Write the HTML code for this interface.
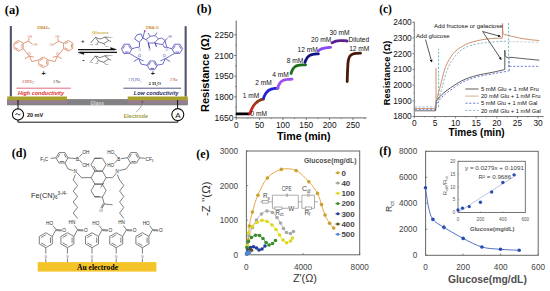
<!DOCTYPE html>
<html><head><meta charset="utf-8"><title>Figure</title>
<style>html,body{margin:0;padding:0;background:#fff;width:550px;height:291px;overflow:hidden}svg{display:block}
</style></head>
<body>
<svg width="550" height="291" viewBox="0 0 550 291"><text x="4.8" y="13.6" font-family="'Liberation Serif',serif" font-size="12.4" fill="#000" text-anchor="start" font-weight="bold" font-style="normal">(a)</text>
<text x="196.8" y="12.8" font-family="'Liberation Serif',serif" font-size="12" fill="#000" text-anchor="start" font-weight="bold" font-style="normal">(b)</text>
<text x="379.2" y="12.5" font-family="'Liberation Serif',serif" font-size="11.5" fill="#000" text-anchor="start" font-weight="bold" font-style="normal">(c)</text>
<text x="11.8" y="157.3" font-family="'Liberation Serif',serif" font-size="12" fill="#000" text-anchor="start" font-weight="bold" font-style="normal">(d)</text>
<text x="196.2" y="157.6" font-family="'Liberation Serif',serif" font-size="12" fill="#000" text-anchor="start" font-weight="bold" font-style="normal">(e)</text>
<text x="379.3" y="154.7" font-family="'Liberation Serif',serif" font-size="12" fill="#000" text-anchor="start" font-weight="bold" font-style="normal">(f)</text>
<line x1="236.2" y1="20.5" x2="236.2" y2="117.9" stroke="#555" stroke-width="0.9"/>
<line x1="236.2" y1="117.9" x2="366.6" y2="117.9" stroke="#555" stroke-width="0.9"/>
<line x1="234.2" y1="117.6" x2="236.2" y2="117.6" stroke="#555" stroke-width="0.8"/>
<text x="233.6" y="120.6" font-family="'Liberation Sans',sans-serif" font-size="8.6" fill="#111" text-anchor="end" font-weight="normal" font-style="normal">1650</text>
<line x1="235" y1="107.25" x2="236.2" y2="107.25" stroke="#555" stroke-width="0.6"/>
<line x1="234.2" y1="96.9" x2="236.2" y2="96.9" stroke="#555" stroke-width="0.8"/>
<text x="233.6" y="99.9" font-family="'Liberation Sans',sans-serif" font-size="8.6" fill="#111" text-anchor="end" font-weight="normal" font-style="normal">1800</text>
<line x1="235" y1="86.55" x2="236.2" y2="86.55" stroke="#555" stroke-width="0.6"/>
<line x1="234.2" y1="76.2" x2="236.2" y2="76.2" stroke="#555" stroke-width="0.8"/>
<text x="233.6" y="79.2" font-family="'Liberation Sans',sans-serif" font-size="8.6" fill="#111" text-anchor="end" font-weight="normal" font-style="normal">1950</text>
<line x1="235" y1="65.85" x2="236.2" y2="65.85" stroke="#555" stroke-width="0.6"/>
<line x1="234.2" y1="55.5" x2="236.2" y2="55.5" stroke="#555" stroke-width="0.8"/>
<text x="233.6" y="58.5" font-family="'Liberation Sans',sans-serif" font-size="8.6" fill="#111" text-anchor="end" font-weight="normal" font-style="normal">2100</text>
<line x1="235" y1="45.15" x2="236.2" y2="45.15" stroke="#555" stroke-width="0.6"/>
<line x1="234.2" y1="34.8" x2="236.2" y2="34.8" stroke="#555" stroke-width="0.8"/>
<text x="233.6" y="37.8" font-family="'Liberation Sans',sans-serif" font-size="8.6" fill="#111" text-anchor="end" font-weight="normal" font-style="normal">2250</text>
<line x1="236.2" y1="117.9" x2="236.2" y2="119.9" stroke="#555" stroke-width="0.8"/>
<text x="236.2" y="128.4" font-family="'Liberation Sans',sans-serif" font-size="8.3" fill="#111" text-anchor="middle" font-weight="normal" font-style="normal">0</text>
<line x1="247.87" y1="117.9" x2="247.87" y2="119.1" stroke="#555" stroke-width="0.6"/>
<line x1="259.55" y1="117.9" x2="259.55" y2="119.9" stroke="#555" stroke-width="0.8"/>
<text x="259.55" y="128.4" font-family="'Liberation Sans',sans-serif" font-size="8.3" fill="#111" text-anchor="middle" font-weight="normal" font-style="normal">50</text>
<line x1="271.22" y1="117.9" x2="271.22" y2="119.1" stroke="#555" stroke-width="0.6"/>
<line x1="282.9" y1="117.9" x2="282.9" y2="119.9" stroke="#555" stroke-width="0.8"/>
<text x="282.9" y="128.4" font-family="'Liberation Sans',sans-serif" font-size="8.3" fill="#111" text-anchor="middle" font-weight="normal" font-style="normal">100</text>
<line x1="294.57" y1="117.9" x2="294.57" y2="119.1" stroke="#555" stroke-width="0.6"/>
<line x1="306.25" y1="117.9" x2="306.25" y2="119.9" stroke="#555" stroke-width="0.8"/>
<text x="306.25" y="128.4" font-family="'Liberation Sans',sans-serif" font-size="8.3" fill="#111" text-anchor="middle" font-weight="normal" font-style="normal">150</text>
<line x1="317.92" y1="117.9" x2="317.92" y2="119.1" stroke="#555" stroke-width="0.6"/>
<line x1="329.6" y1="117.9" x2="329.6" y2="119.9" stroke="#555" stroke-width="0.8"/>
<text x="329.6" y="128.4" font-family="'Liberation Sans',sans-serif" font-size="8.3" fill="#111" text-anchor="middle" font-weight="normal" font-style="normal">200</text>
<line x1="341.27" y1="117.9" x2="341.27" y2="119.1" stroke="#555" stroke-width="0.6"/>
<line x1="352.95" y1="117.9" x2="352.95" y2="119.9" stroke="#555" stroke-width="0.8"/>
<text x="352.95" y="128.4" font-family="'Liberation Sans',sans-serif" font-size="8.3" fill="#111" text-anchor="middle" font-weight="normal" font-style="normal">250</text>
<line x1="364.62" y1="117.9" x2="364.62" y2="119.1" stroke="#555" stroke-width="0.6"/>
<text x="303.8" y="139.5" font-family="'Liberation Sans',sans-serif" font-size="10.6" fill="#000" text-anchor="middle" font-weight="bold" font-style="normal" textLength="53.6" lengthAdjust="spacingAndGlyphs">Time (min)</text>
<g transform="translate(208.8,112) rotate(-90)">
<text x="0" y="0" font-family="'Liberation Sans',sans-serif" font-size="10.3" fill="#000" text-anchor="start" font-weight="bold" font-style="normal" textLength="77.6" lengthAdjust="spacingAndGlyphs">Resistance (&#937;)</text>
</g>
<defs><linearGradient id="g1" x1="0" y1="1" x2="0" y2="0"><stop offset="0" stop-color="#e01818"/><stop offset="0.45" stop-color="#c03018"/><stop offset="1" stop-color="#7a3a10"/></linearGradient></defs>
<path d="M237 113.9 L249.6 113.9" stroke="#000" stroke-width="2.8" fill="none" stroke-linecap="round" stroke-linejoin="round"/>
<path d="M249.8 113.8 C250.03 113.21 250.71 111.29 251.17 110.23 C251.63 109.18 252.08 108.28 252.54 107.46 C253 106.63 253.45 105.93 253.91 105.29 C254.37 104.65 254.82 104.11 255.28 103.61 C255.74 103.11 256.19 102.68 256.65 102.3 C257.11 101.91 257.56 101.58 258.02 101.27 C258.48 100.97 258.93 100.71 259.39 100.48 C259.85 100.24 260.3 100.04 260.76 99.86 C261.22 99.67 261.67 99.52 262.13 99.38 C262.59 99.23 263.27 99.06 263.5 99" stroke="url(#g1)" stroke-width="2.8" fill="none" stroke-linecap="round" stroke-linejoin="round"/>
<path d="M263.5 98.2 C263.74 97.64 264.47 95.78 264.95 94.84 C265.43 93.91 265.92 93.22 266.4 92.59 C266.88 91.96 267.37 91.5 267.85 91.08 C268.33 90.66 268.82 90.35 269.3 90.07 C269.78 89.79 270.27 89.58 270.75 89.39 C271.23 89.2 271.72 89.06 272.2 88.94 C272.68 88.81 273.17 88.72 273.65 88.63 C274.13 88.55 274.62 88.49 275.1 88.43 C275.58 88.37 276.07 88.33 276.55 88.29 C277.03 88.25 277.76 88.22 278 88.2" stroke="#2222dd" stroke-width="2.8" fill="none" stroke-linecap="round" stroke-linejoin="round"/>
<path d="M277.5 88.3 C277.7 87.78 278.31 86.04 278.71 85.18 C279.11 84.31 279.51 83.69 279.92 83.12 C280.32 82.55 280.72 82.14 281.12 81.76 C281.53 81.39 281.93 81.12 282.33 80.87 C282.74 80.62 283.14 80.44 283.54 80.28 C283.94 80.12 284.35 80 284.75 79.89 C285.15 79.78 285.56 79.7 285.96 79.63 C286.36 79.56 286.76 79.51 287.17 79.47 C287.57 79.42 287.97 79.38 288.38 79.35 C288.78 79.32 289.18 79.3 289.58 79.28 C289.99 79.26 290.39 79.25 290.79 79.23 C291.19 79.22 291.8 79.21 292 79.2" stroke="#a050ee" stroke-width="2.8" fill="none" stroke-linecap="round" stroke-linejoin="round"/>
<path d="M291 73.5 C291.2 72.96 291.81 71.16 292.22 70.29 C292.62 69.41 293.03 68.81 293.43 68.26 C293.84 67.7 294.24 67.32 294.65 66.97 C295.06 66.62 295.46 66.38 295.87 66.16 C296.27 65.94 296.68 65.79 297.08 65.65 C297.49 65.51 297.89 65.41 298.3 65.32 C298.71 65.23 299.11 65.17 299.52 65.12 C299.92 65.06 300.33 65.02 300.73 64.99 C301.14 64.95 301.54 64.93 301.95 64.91 C302.36 64.88 302.76 64.87 303.17 64.85 C303.57 64.84 303.98 64.83 304.38 64.82 C304.79 64.81 305.4 64.8 305.6 64.8" stroke="#1e6e1e" stroke-width="2.8" fill="none" stroke-linecap="round" stroke-linejoin="round"/>
<path d="M305 62.2 C305.19 61.76 305.74 60.29 306.12 59.54 C306.49 58.8 306.86 58.23 307.23 57.72 C307.61 57.2 307.98 56.82 308.35 56.46 C308.72 56.11 309.09 55.84 309.47 55.6 C309.84 55.36 310.21 55.17 310.58 55.01 C310.96 54.84 311.33 54.72 311.7 54.6 C312.07 54.49 312.44 54.4 312.82 54.32 C313.19 54.24 313.56 54.18 313.93 54.13 C314.31 54.07 314.68 54.03 315.05 54 C315.42 53.96 315.79 53.93 316.17 53.91 C316.54 53.88 316.91 53.86 317.28 53.84 C317.66 53.83 318.21 53.81 318.4 53.8" stroke="#121282" stroke-width="2.8" fill="none" stroke-linecap="round" stroke-linejoin="round"/>
<path d="M318.4 50.8 C318.6 50.65 319.21 50.14 319.62 49.87 C320.03 49.6 320.43 49.38 320.84 49.19 C321.25 48.99 321.65 48.82 322.06 48.68 C322.47 48.53 322.87 48.41 323.28 48.3 C323.69 48.19 324.09 48.1 324.5 48.02 C324.91 47.94 325.31 47.87 325.72 47.81 C326.13 47.75 326.53 47.7 326.94 47.66 C327.35 47.62 327.75 47.58 328.16 47.55 C328.57 47.51 328.97 47.49 329.38 47.46 C329.79 47.44 330.4 47.41 330.6 47.4" stroke="#8a4af0" stroke-width="2.8" fill="none" stroke-linecap="round" stroke-linejoin="round"/>
<path d="M332 42.8 C332.67 42.53 334.67 41.57 336 41.2 C337.33 40.83 338.67 40.7 340 40.6 C341.33 40.5 342.83 40.53 344 40.6 C345.17 40.67 346.5 40.93 347 41" stroke="#5a2090" stroke-width="2.8" fill="none" stroke-linecap="round" stroke-linejoin="round"/>
<path d="M347.2 81.5 C347.27 79.58 347.42 73.5 347.6 70 C347.78 66.5 347.9 62.83 348.3 60.5 C348.7 58.17 349.22 57.08 350 56 C350.78 54.92 351.83 54.43 353 54 C354.17 53.57 355.75 53.53 357 53.4 C358.25 53.27 359.92 53.23 360.5 53.2" stroke="#4a1808" stroke-width="2.8" fill="none" stroke-linecap="round" stroke-linejoin="round"/>
<text x="250.6" y="116" font-family="'Liberation Sans',sans-serif" font-size="6.6" fill="#111" text-anchor="start" font-weight="normal" font-style="normal">0 mM</text>
<text x="242.8" y="98.3" font-family="'Liberation Sans',sans-serif" font-size="6.6" fill="#111" text-anchor="start" font-weight="normal" font-style="normal">1 mM</text>
<text x="255.2" y="85.2" font-family="'Liberation Sans',sans-serif" font-size="6.6" fill="#111" text-anchor="start" font-weight="normal" font-style="normal">2 mM</text>
<text x="272.2" y="76.6" font-family="'Liberation Sans',sans-serif" font-size="6.6" fill="#111" text-anchor="start" font-weight="normal" font-style="normal">4 mM</text>
<text x="286.8" y="62.6" font-family="'Liberation Sans',sans-serif" font-size="6.6" fill="#111" text-anchor="start" font-weight="normal" font-style="normal">8 mM</text>
<text x="297.6" y="51.8" font-family="'Liberation Sans',sans-serif" font-size="6.6" fill="#111" text-anchor="start" font-weight="normal" font-style="normal">12 mM</text>
<text x="311" y="42.4" font-family="'Liberation Sans',sans-serif" font-size="6.6" fill="#111" text-anchor="start" font-weight="normal" font-style="normal">20 mM</text>
<text x="329.4" y="35.2" font-family="'Liberation Sans',sans-serif" font-size="6.6" fill="#111" text-anchor="start" font-weight="normal" font-style="normal">30 mM</text>
<text x="348.6" y="41.8" font-family="'Liberation Sans',sans-serif" font-size="6.6" fill="#111" text-anchor="start" font-weight="normal" font-style="normal">Diluted</text>
<text x="349.2" y="50.6" font-family="'Liberation Sans',sans-serif" font-size="6.6" fill="#111" text-anchor="start" font-weight="normal" font-style="normal">12 mM</text>
<line x1="414.3" y1="21.6" x2="414.3" y2="116.5" stroke="#555" stroke-width="0.8"/>
<line x1="414.3" y1="116.5" x2="543.6" y2="116.5" stroke="#555" stroke-width="0.8"/>
<line x1="412.5" y1="116.5" x2="414.3" y2="116.5" stroke="#555" stroke-width="0.7"/>
<text x="411.7" y="119.4" font-family="'Liberation Sans',sans-serif" font-size="8.3" fill="#111" text-anchor="end" font-weight="normal" font-style="normal">1800</text>
<line x1="413.3" y1="108.65" x2="414.3" y2="108.65" stroke="#555" stroke-width="0.5"/>
<line x1="412.5" y1="100.8" x2="414.3" y2="100.8" stroke="#555" stroke-width="0.7"/>
<text x="411.7" y="103.7" font-family="'Liberation Sans',sans-serif" font-size="8.3" fill="#111" text-anchor="end" font-weight="normal" font-style="normal">1900</text>
<line x1="413.3" y1="92.95" x2="414.3" y2="92.95" stroke="#555" stroke-width="0.5"/>
<line x1="412.5" y1="85.1" x2="414.3" y2="85.1" stroke="#555" stroke-width="0.7"/>
<text x="411.7" y="88" font-family="'Liberation Sans',sans-serif" font-size="8.3" fill="#111" text-anchor="end" font-weight="normal" font-style="normal">2000</text>
<line x1="413.3" y1="77.25" x2="414.3" y2="77.25" stroke="#555" stroke-width="0.5"/>
<line x1="412.5" y1="69.4" x2="414.3" y2="69.4" stroke="#555" stroke-width="0.7"/>
<text x="411.7" y="72.3" font-family="'Liberation Sans',sans-serif" font-size="8.3" fill="#111" text-anchor="end" font-weight="normal" font-style="normal">2100</text>
<line x1="413.3" y1="61.55" x2="414.3" y2="61.55" stroke="#555" stroke-width="0.5"/>
<line x1="412.5" y1="53.7" x2="414.3" y2="53.7" stroke="#555" stroke-width="0.7"/>
<text x="411.7" y="56.6" font-family="'Liberation Sans',sans-serif" font-size="8.3" fill="#111" text-anchor="end" font-weight="normal" font-style="normal">2200</text>
<line x1="413.3" y1="45.85" x2="414.3" y2="45.85" stroke="#555" stroke-width="0.5"/>
<line x1="412.5" y1="38" x2="414.3" y2="38" stroke="#555" stroke-width="0.7"/>
<text x="411.7" y="40.9" font-family="'Liberation Sans',sans-serif" font-size="8.3" fill="#111" text-anchor="end" font-weight="normal" font-style="normal">2300</text>
<line x1="413.3" y1="30.15" x2="414.3" y2="30.15" stroke="#555" stroke-width="0.5"/>
<line x1="412.5" y1="22.3" x2="414.3" y2="22.3" stroke="#555" stroke-width="0.7"/>
<text x="411.7" y="25.2" font-family="'Liberation Sans',sans-serif" font-size="8.3" fill="#111" text-anchor="end" font-weight="normal" font-style="normal">2400</text>
<line x1="414.3" y1="116.5" x2="414.3" y2="118.3" stroke="#555" stroke-width="0.7"/>
<text x="414.3" y="126.2" font-family="'Liberation Sans',sans-serif" font-size="8.3" fill="#111" text-anchor="middle" font-weight="normal" font-style="normal">0</text>
<line x1="424.6" y1="116.5" x2="424.6" y2="117.5" stroke="#555" stroke-width="0.5"/>
<line x1="434.94" y1="116.5" x2="434.94" y2="118.3" stroke="#555" stroke-width="0.7"/>
<text x="434.94" y="126.2" font-family="'Liberation Sans',sans-serif" font-size="8.3" fill="#111" text-anchor="middle" font-weight="normal" font-style="normal">5</text>
<line x1="445.24" y1="116.5" x2="445.24" y2="117.5" stroke="#555" stroke-width="0.5"/>
<line x1="455.57" y1="116.5" x2="455.57" y2="118.3" stroke="#555" stroke-width="0.7"/>
<text x="455.57" y="126.2" font-family="'Liberation Sans',sans-serif" font-size="8.3" fill="#111" text-anchor="middle" font-weight="normal" font-style="normal">10</text>
<line x1="465.87" y1="116.5" x2="465.87" y2="117.5" stroke="#555" stroke-width="0.5"/>
<line x1="476.2" y1="116.5" x2="476.2" y2="118.3" stroke="#555" stroke-width="0.7"/>
<text x="476.2" y="126.2" font-family="'Liberation Sans',sans-serif" font-size="8.3" fill="#111" text-anchor="middle" font-weight="normal" font-style="normal">15</text>
<line x1="486.5" y1="116.5" x2="486.5" y2="117.5" stroke="#555" stroke-width="0.5"/>
<line x1="496.84" y1="116.5" x2="496.84" y2="118.3" stroke="#555" stroke-width="0.7"/>
<text x="496.84" y="126.2" font-family="'Liberation Sans',sans-serif" font-size="8.3" fill="#111" text-anchor="middle" font-weight="normal" font-style="normal">20</text>
<line x1="507.14" y1="116.5" x2="507.14" y2="117.5" stroke="#555" stroke-width="0.5"/>
<line x1="517.48" y1="116.5" x2="517.48" y2="118.3" stroke="#555" stroke-width="0.7"/>
<text x="517.48" y="126.2" font-family="'Liberation Sans',sans-serif" font-size="8.3" fill="#111" text-anchor="middle" font-weight="normal" font-style="normal">25</text>
<line x1="527.77" y1="116.5" x2="527.77" y2="117.5" stroke="#555" stroke-width="0.5"/>
<line x1="538.11" y1="116.5" x2="538.11" y2="118.3" stroke="#555" stroke-width="0.7"/>
<text x="538.11" y="126.2" font-family="'Liberation Sans',sans-serif" font-size="8.3" fill="#111" text-anchor="middle" font-weight="normal" font-style="normal">30</text>
<text x="476.6" y="136.1" font-family="'Liberation Sans',sans-serif" font-size="10.1" fill="#000" text-anchor="middle" font-weight="bold" font-style="normal" textLength="56" lengthAdjust="spacingAndGlyphs">Times (min)</text>
<g transform="translate(390.4,105.2) rotate(-90)">
<text x="0" y="0" font-family="'Liberation Sans',sans-serif" font-size="9.3" fill="#000" text-anchor="start" font-weight="bold" font-style="normal" textLength="64.5" lengthAdjust="spacingAndGlyphs">Resistance (&#937;)</text>
</g>
<line x1="414.8" y1="108.5" x2="435.3" y2="108.5" stroke="#c4845a" stroke-width="0.8"/>
<line x1="414.8" y1="110.8" x2="435.6" y2="110.8" stroke="#4a4a4a" stroke-width="0.8"/>
<line x1="414.8" y1="107" x2="437.4" y2="107" stroke="#74a0bc" stroke-width="0.7" stroke-dasharray="2.2,1.6"/>
<line x1="414.8" y1="109.6" x2="437" y2="109.6" stroke="#4a5ec8" stroke-width="0.7" stroke-dasharray="2.2,1.6"/>
<line x1="436" y1="108.5" x2="436" y2="68" stroke="#c4845a" stroke-width="0.9"/>
<line x1="438.6" y1="107" x2="438.6" y2="48.8" stroke="#48a8b4" stroke-width="0.8" stroke-dasharray="2.2,1.6"/>
<line x1="435.6" y1="110.8" x2="436.2" y2="101.5" stroke="#4a4a4a" stroke-width="0.8"/>
<path d="M436.5 101 C436.78 99.75 437.57 95.97 438.2 93.5 C438.83 91.03 439.1 90.57 440.3 86.2 C441.5 81.83 443.25 72.73 445.4 67.3 C447.55 61.87 450.48 57.03 453.2 53.6 C455.92 50.17 458.73 48.57 461.7 46.7 C464.67 44.83 467.28 43.62 471 42.4 C474.72 41.18 480 40.08 484 39.4 C488 38.72 491.97 38.5 495 38.3 C498.03 38.1 501 38.22 502.2 38.2" stroke="#c4845a" stroke-width="0.9" fill="none"/>
<path d="M438.6 99 C439.17 97.15 440.72 92.33 442 87.9 C443.28 83.47 444.73 76.83 446.3 72.4 C447.87 67.97 449.4 64.58 451.4 61.3 C453.4 58.02 456 54.98 458.3 52.7 C460.6 50.42 462.33 49.02 465.2 47.6 C468.07 46.18 472.07 45.03 475.5 44.2 C478.93 43.37 481.72 43.05 485.8 42.6 C489.88 42.15 496.25 41.73 500 41.5 C503.75 41.27 506.92 41.25 508.3 41.2" stroke="#74a0bc" stroke-width="0.8" fill="none" stroke-dasharray="2.2,1.6"/>
<path d="M436.2 101.5 C436.83 100.67 438.13 98.42 440 96.5 C441.87 94.58 443.77 92.62 447.4 90 C451.03 87.38 457 83.2 461.8 80.8 C466.6 78.4 471.05 77.02 476.2 75.6 C481.35 74.18 487.97 73.3 492.7 72.3 C497.43 71.3 502.62 70.05 504.6 69.6" stroke="#4a4a4a" stroke-width="0.9" fill="none"/>
<path d="M437.2 103.5 C437.83 102.58 439.2 99.92 441 98 C442.8 96.08 444.5 94.58 448 92 C451.5 89.42 457.17 85 462 82.5 C466.83 80 471.67 78.48 477 77 C482.33 75.52 488.7 74.6 494 73.6 C499.3 72.6 506.33 71.43 508.8 71" stroke="#4a5ec8" stroke-width="0.8" fill="none" stroke-dasharray="2.2,1.6"/>
<line x1="502.4" y1="38.4" x2="502.4" y2="23.4" stroke="#c4845a" stroke-width="0.9"/>
<path d="M502.6 23.6 C502.7 25.25 502.63 31.63 503.2 33.5 C503.77 35.37 504.03 34.22 506 34.8 C507.97 35.38 511.83 36.3 515 37 C518.17 37.7 520.93 38.4 525 39 C529.07 39.6 537 40.33 539.4 40.6" stroke="#c4845a" stroke-width="0.9" fill="none"/>
<line x1="504.8" y1="69.6" x2="504.8" y2="50" stroke="#4a4a4a" stroke-width="0.9"/>
<path d="M505 50.5 C505.13 51.55 504.63 55.65 505.8 56.8 C506.97 57.95 508.8 57.07 512 57.4 C515.2 57.73 520.43 58.33 525 58.8 C529.57 59.27 537 59.97 539.4 60.2" stroke="#4a4a4a" stroke-width="0.9" fill="none"/>
<line x1="508.6" y1="23" x2="508.6" y2="67.5" stroke="#48a8b4" stroke-width="0.8" stroke-dasharray="2.2,1.6"/>
<line x1="509.2" y1="71" x2="509.2" y2="58.5" stroke="#4a5ec8" stroke-width="0.8" stroke-dasharray="2.2,1.6"/>
<line x1="509.4" y1="66.3" x2="539.4" y2="66.3" stroke="#4a5ec8" stroke-width="0.8" stroke-dasharray="2.2,1.6"/>
<path d="M509 41.5 C510.83 41.55 514.93 41.68 520 41.8 C525.07 41.92 536.17 42.13 539.4 42.2" stroke="#98a8c0" stroke-width="0.6" fill="none" stroke-dasharray="2.2,1.6"/>
<text x="416" y="37.6" font-family="'Liberation Sans',sans-serif" font-size="6" fill="#111" text-anchor="start" font-weight="normal" font-style="normal" textLength="33.6" lengthAdjust="spacingAndGlyphs">Add glucose</text>
<text x="434.1" y="28.4" font-family="'Liberation Sans',sans-serif" font-size="6" fill="#111" text-anchor="start" font-weight="normal" font-style="normal" textLength="68.5" lengthAdjust="spacingAndGlyphs">Add fructose or galactose</text>
<defs><marker id="ah" viewBox="0 0 6 6" refX="5" refY="3" markerWidth="4" markerHeight="4" orient="auto"><path d="M0 0 L6 3 L0 6 Z" fill="#111"/></marker></defs>
<line x1="425.5" y1="39.5" x2="431.8" y2="62" stroke="#111" stroke-width="0.7" marker-end="url(#ah)"/>
<line x1="482.6" y1="31.5" x2="500.4" y2="36.4" stroke="#111" stroke-width="0.7" marker-end="url(#ah)"/>
<line x1="482.6" y1="31.5" x2="501.2" y2="59.5" stroke="#111" stroke-width="0.7" marker-end="url(#ah)"/>
<line x1="465.4" y1="89" x2="478.5" y2="89" stroke="#4a4a4a" stroke-width="0.9"/>
<line x1="465.4" y1="96.1" x2="478.5" y2="96.1" stroke="#c8a888" stroke-width="0.9"/>
<line x1="465.4" y1="103.2" x2="478.5" y2="103.2" stroke="#4a5ec8" stroke-width="0.8" stroke-dasharray="2.2,1.6"/>
<line x1="465.4" y1="110.4" x2="478.5" y2="110.4" stroke="#74a0bc" stroke-width="0.8" stroke-dasharray="2.2,1.6"/>
<text x="480.9" y="91.1" font-family="'Liberation Sans',sans-serif" font-size="5.9" fill="#111" text-anchor="start" font-weight="normal" font-style="normal" textLength="58" lengthAdjust="spacingAndGlyphs">5 mM Glu + 1 mM Fru</text>
<text x="480.9" y="98.2" font-family="'Liberation Sans',sans-serif" font-size="5.9" fill="#111" text-anchor="start" font-weight="normal" font-style="normal" textLength="59.5" lengthAdjust="spacingAndGlyphs">20 mM Glu + 1 mM Fru</text>
<text x="480.9" y="105.3" font-family="'Liberation Sans',sans-serif" font-size="5.9" fill="#111" text-anchor="start" font-weight="normal" font-style="normal" textLength="56.5" lengthAdjust="spacingAndGlyphs">5 mM Glu + 1 mM Gal</text>
<text x="480.9" y="112.5" font-family="'Liberation Sans',sans-serif" font-size="5.9" fill="#111" text-anchor="start" font-weight="normal" font-style="normal" textLength="60" lengthAdjust="spacingAndGlyphs">20 mM Glu + 1 mM Gal</text>
<rect x="246.4" y="151" width="113.3" height="103.8" fill="none" stroke="#666" stroke-width="1"/>
<line x1="246.4" y1="254.8" x2="248.2" y2="254.8" stroke="#666" stroke-width="0.7"/>
<text x="238" y="257.7" font-family="'Liberation Sans',sans-serif" font-size="8.2" fill="#444" text-anchor="end" font-weight="normal" font-style="normal">0</text>
<line x1="246.4" y1="220.2" x2="248.2" y2="220.2" stroke="#666" stroke-width="0.7"/>
<text x="238" y="223.1" font-family="'Liberation Sans',sans-serif" font-size="8.2" fill="#444" text-anchor="end" font-weight="normal" font-style="normal">1000</text>
<line x1="246.4" y1="185.6" x2="248.2" y2="185.6" stroke="#666" stroke-width="0.7"/>
<text x="238" y="188.5" font-family="'Liberation Sans',sans-serif" font-size="8.2" fill="#444" text-anchor="end" font-weight="normal" font-style="normal">2000</text>
<line x1="246.4" y1="151" x2="248.2" y2="151" stroke="#666" stroke-width="0.7"/>
<text x="238" y="153.9" font-family="'Liberation Sans',sans-serif" font-size="8.2" fill="#444" text-anchor="end" font-weight="normal" font-style="normal">3000</text>
<line x1="246.4" y1="254.8" x2="246.4" y2="253" stroke="#666" stroke-width="0.7"/>
<text x="246.4" y="269.5" font-family="'Liberation Sans',sans-serif" font-size="8.2" fill="#444" text-anchor="middle" font-weight="normal" font-style="normal">0</text>
<line x1="303.05" y1="254.8" x2="303.05" y2="253" stroke="#666" stroke-width="0.7"/>
<text x="303.05" y="269.5" font-family="'Liberation Sans',sans-serif" font-size="8.2" fill="#444" text-anchor="middle" font-weight="normal" font-style="normal">4000</text>
<line x1="359.7" y1="254.8" x2="359.7" y2="253" stroke="#666" stroke-width="0.7"/>
<text x="359.7" y="269.5" font-family="'Liberation Sans',sans-serif" font-size="8.2" fill="#444" text-anchor="middle" font-weight="normal" font-style="normal">8000</text>
<text x="304.9" y="281.6" font-family="'Liberation Sans',sans-serif" font-size="10.6" fill="#333" text-anchor="middle" font-weight="normal" font-style="normal" textLength="24" lengthAdjust="spacingAndGlyphs">Z'(&#937;)</text>
<g transform="translate(210.3,216) rotate(-90)">
<text x="0" y="0" font-family="'Liberation Sans',sans-serif" font-size="10.4" fill="#333" text-anchor="start" font-weight="normal" font-style="normal" textLength="34.5" lengthAdjust="spacingAndGlyphs">-Z ''(&#937;)</text>
</g>
<path d="M247 253 C247.22 250.83 247.92 244.5 248.3 240 C248.68 235.5 248.62 230.67 249.3 226 C249.98 221.33 250.97 217.13 252.4 212 C253.83 206.87 255.42 200.87 257.9 195.2 C260.38 189.53 263.4 182.3 267.3 178 C271.2 173.7 276.5 170.63 281.3 169.4 C286.1 168.17 291.52 168.55 296.1 170.6 C300.68 172.65 305.23 177.9 308.8 181.7 C312.37 185.5 315.38 189.58 317.5 193.4 C319.62 197.22 320.25 201 321.5 204.6 C322.75 208.2 323.65 211.88 325 215 C326.35 218.12 328.15 221.13 329.6 223.3 C331.05 225.47 333.02 227.22 333.7 228" stroke="#e8a848" stroke-width="1" fill="none"/>
<path d="M247.5 247 C247.75 245.08 248.17 238.75 249 235.5 C249.83 232.25 251.25 230.08 252.5 227.5 C253.75 224.92 255 222.25 256.5 220 C258 217.75 259.75 215.5 261.5 214 C263.25 212.5 265.17 211.25 267 211 C268.83 210.75 270.83 211.42 272.5 212.5 C274.17 213.58 275.67 215.75 277 217.5 C278.33 219.25 279.42 221.17 280.5 223 C281.58 224.83 282.5 226.92 283.5 228.5 C284.5 230.08 285.33 231.67 286.5 232.5 C287.67 233.33 289.33 233.67 290.5 233.5 C291.67 233.33 293 231.83 293.5 231.5" stroke="#b8b8b8" stroke-width="1" fill="none"/>
<path d="M247.3 245.5 C247.5 243.42 247.63 236.17 248.5 233 C249.37 229.83 251.08 228.25 252.5 226.5 C253.92 224.75 255.42 223.52 257 222.5 C258.58 221.48 260.33 220.57 262 220.4 C263.67 220.23 265.33 220.73 267 221.5 C268.67 222.27 270.5 223.67 272 225 C273.5 226.33 274.75 227.83 276 229.5 C277.25 231.17 278.33 233.25 279.5 235 C280.67 236.75 281.83 238.7 283 240 C284.17 241.3 285.25 242.63 286.5 242.8 C287.75 242.97 289.5 241.8 290.5 241 C291.5 240.2 292.17 238.5 292.5 238" stroke="#e6e030" stroke-width="1" fill="none"/>
<path d="M246.9 247.5 C247.17 246.5 247.73 243.17 248.5 241.5 C249.27 239.83 250.33 238.55 251.5 237.5 C252.67 236.45 254.17 235.53 255.5 235.2 C256.83 234.87 258.25 234.95 259.5 235.5 C260.75 236.05 261.92 237.33 263 238.5 C264.08 239.67 265 241.42 266 242.5 C267 243.58 267.92 244.83 269 245 C270.08 245.17 271.42 244.25 272.5 243.5 C273.58 242.75 275 241 275.5 240.5" stroke="#3a8c2a" stroke-width="1" fill="none"/>
<path d="M246.8 253.5 C247 252.92 247.38 251 248 250 C248.62 249 249.58 248.03 250.5 247.5 C251.42 246.97 252.5 246.72 253.5 246.8 C254.5 246.88 255.58 247.47 256.5 248 C257.42 248.53 258.08 249.83 259 250 C259.92 250.17 261 249.67 262 249 C263 248.33 264.5 246.5 265 246" stroke="#223c9a" stroke-width="1" fill="none"/>
<path d="M246.7 254 C246.88 253.58 247.33 252.17 247.8 251.5 C248.27 250.83 248.88 250.2 249.5 250 C250.12 249.8 251.17 250.25 251.5 250.3" stroke="#5e5020" stroke-width="1" fill="none"/>
<path d="M246.6 254.3 C246.72 254.05 247 253.18 247.3 252.8 C247.6 252.42 248.03 252.07 248.4 252 C248.77 251.93 249.32 252.33 249.5 252.4" stroke="#4d88dc" stroke-width="1" fill="none"/>
<circle cx="247" cy="253" r="1.8" fill="#c9a02a" stroke="none" stroke-width="1"/>
<circle cx="248.3" cy="240" r="1.8" fill="#c9a02a" stroke="none" stroke-width="1"/>
<circle cx="249.3" cy="226" r="1.8" fill="#c9a02a" stroke="none" stroke-width="1"/>
<circle cx="252.4" cy="212" r="1.8" fill="#c9a02a" stroke="none" stroke-width="1"/>
<circle cx="257.9" cy="195.2" r="1.8" fill="#c9a02a" stroke="none" stroke-width="1"/>
<circle cx="267.3" cy="178" r="1.8" fill="#c9a02a" stroke="none" stroke-width="1"/>
<circle cx="281.3" cy="169.4" r="1.8" fill="#c9a02a" stroke="none" stroke-width="1"/>
<circle cx="296.1" cy="170.6" r="1.8" fill="#c9a02a" stroke="none" stroke-width="1"/>
<circle cx="308.8" cy="181.7" r="1.8" fill="#c9a02a" stroke="none" stroke-width="1"/>
<circle cx="317.5" cy="193.4" r="1.8" fill="#c9a02a" stroke="none" stroke-width="1"/>
<circle cx="321.5" cy="204.6" r="1.8" fill="#c9a02a" stroke="none" stroke-width="1"/>
<circle cx="325" cy="215" r="1.8" fill="#c9a02a" stroke="none" stroke-width="1"/>
<circle cx="329.6" cy="223.3" r="1.8" fill="#c9a02a" stroke="none" stroke-width="1"/>
<circle cx="333.7" cy="228" r="1.8" fill="#c9a02a" stroke="none" stroke-width="1"/>
<circle cx="247.5" cy="247" r="1.8" fill="#a8a8a8" stroke="none" stroke-width="1"/>
<circle cx="249" cy="235.5" r="1.8" fill="#a8a8a8" stroke="none" stroke-width="1"/>
<circle cx="252.5" cy="227.5" r="1.8" fill="#a8a8a8" stroke="none" stroke-width="1"/>
<circle cx="256.5" cy="220" r="1.8" fill="#a8a8a8" stroke="none" stroke-width="1"/>
<circle cx="261.5" cy="214" r="1.8" fill="#a8a8a8" stroke="none" stroke-width="1"/>
<circle cx="267" cy="211" r="1.8" fill="#a8a8a8" stroke="none" stroke-width="1"/>
<circle cx="272.5" cy="212.5" r="1.8" fill="#a8a8a8" stroke="none" stroke-width="1"/>
<circle cx="277" cy="217.5" r="1.8" fill="#a8a8a8" stroke="none" stroke-width="1"/>
<circle cx="280.5" cy="223" r="1.8" fill="#a8a8a8" stroke="none" stroke-width="1"/>
<circle cx="283.5" cy="228.5" r="1.8" fill="#a8a8a8" stroke="none" stroke-width="1"/>
<circle cx="286.5" cy="232.5" r="1.8" fill="#a8a8a8" stroke="none" stroke-width="1"/>
<circle cx="290.5" cy="233.5" r="1.8" fill="#a8a8a8" stroke="none" stroke-width="1"/>
<circle cx="293.5" cy="231.5" r="1.8" fill="#a8a8a8" stroke="none" stroke-width="1"/>
<circle cx="247.3" cy="245.5" r="1.8" fill="#dcd820" stroke="none" stroke-width="1"/>
<circle cx="248.5" cy="233" r="1.8" fill="#dcd820" stroke="none" stroke-width="1"/>
<circle cx="252.5" cy="226.5" r="1.8" fill="#dcd820" stroke="none" stroke-width="1"/>
<circle cx="257" cy="222.5" r="1.8" fill="#dcd820" stroke="none" stroke-width="1"/>
<circle cx="262" cy="220.4" r="1.8" fill="#dcd820" stroke="none" stroke-width="1"/>
<circle cx="267" cy="221.5" r="1.8" fill="#dcd820" stroke="none" stroke-width="1"/>
<circle cx="272" cy="225" r="1.8" fill="#dcd820" stroke="none" stroke-width="1"/>
<circle cx="276" cy="229.5" r="1.8" fill="#dcd820" stroke="none" stroke-width="1"/>
<circle cx="279.5" cy="235" r="1.8" fill="#dcd820" stroke="none" stroke-width="1"/>
<circle cx="283" cy="240" r="1.8" fill="#dcd820" stroke="none" stroke-width="1"/>
<circle cx="286.5" cy="242.8" r="1.8" fill="#dcd820" stroke="none" stroke-width="1"/>
<circle cx="290.5" cy="241" r="1.8" fill="#dcd820" stroke="none" stroke-width="1"/>
<circle cx="292.5" cy="238" r="1.8" fill="#dcd820" stroke="none" stroke-width="1"/>
<circle cx="246.9" cy="247.5" r="1.8" fill="#3a8c2a" stroke="none" stroke-width="1"/>
<circle cx="248.5" cy="241.5" r="1.8" fill="#3a8c2a" stroke="none" stroke-width="1"/>
<circle cx="251.5" cy="237.5" r="1.8" fill="#3a8c2a" stroke="none" stroke-width="1"/>
<circle cx="255.5" cy="235.2" r="1.8" fill="#3a8c2a" stroke="none" stroke-width="1"/>
<circle cx="259.5" cy="235.5" r="1.8" fill="#3a8c2a" stroke="none" stroke-width="1"/>
<circle cx="263" cy="238.5" r="1.8" fill="#3a8c2a" stroke="none" stroke-width="1"/>
<circle cx="266" cy="242.5" r="1.8" fill="#3a8c2a" stroke="none" stroke-width="1"/>
<circle cx="269" cy="245" r="1.8" fill="#3a8c2a" stroke="none" stroke-width="1"/>
<circle cx="272.5" cy="243.5" r="1.8" fill="#3a8c2a" stroke="none" stroke-width="1"/>
<circle cx="275.5" cy="240.5" r="1.8" fill="#3a8c2a" stroke="none" stroke-width="1"/>
<circle cx="246.8" cy="253.5" r="1.8" fill="#223c9a" stroke="none" stroke-width="1"/>
<circle cx="248" cy="250" r="1.8" fill="#223c9a" stroke="none" stroke-width="1"/>
<circle cx="250.5" cy="247.5" r="1.8" fill="#223c9a" stroke="none" stroke-width="1"/>
<circle cx="253.5" cy="246.8" r="1.8" fill="#223c9a" stroke="none" stroke-width="1"/>
<circle cx="256.5" cy="248" r="1.8" fill="#223c9a" stroke="none" stroke-width="1"/>
<circle cx="259" cy="250" r="1.8" fill="#223c9a" stroke="none" stroke-width="1"/>
<circle cx="262" cy="249" r="1.8" fill="#223c9a" stroke="none" stroke-width="1"/>
<circle cx="265" cy="246" r="1.8" fill="#223c9a" stroke="none" stroke-width="1"/>
<circle cx="246.7" cy="254" r="1.8" fill="#5e5020" stroke="none" stroke-width="1"/>
<circle cx="247.8" cy="251.5" r="1.8" fill="#5e5020" stroke="none" stroke-width="1"/>
<circle cx="249.5" cy="250" r="1.8" fill="#5e5020" stroke="none" stroke-width="1"/>
<circle cx="251.5" cy="250.3" r="1.8" fill="#5e5020" stroke="none" stroke-width="1"/>
<circle cx="246.6" cy="254.3" r="1.8" fill="#4d88dc" stroke="none" stroke-width="1"/>
<circle cx="247.3" cy="252.8" r="1.8" fill="#4d88dc" stroke="none" stroke-width="1"/>
<circle cx="248.4" cy="252" r="1.8" fill="#4d88dc" stroke="none" stroke-width="1"/>
<circle cx="249.5" cy="252.4" r="1.8" fill="#4d88dc" stroke="none" stroke-width="1"/>
<line x1="260.4" y1="201.8" x2="262.2" y2="201.8" stroke="#8a8a8a" stroke-width="0.7"/>
<rect x="262.2" y="200.5" width="6" height="2.6" fill="#fff" stroke="#8a8a8a" stroke-width="0.7"/>
<line x1="268.2" y1="201.8" x2="272.4" y2="201.8" stroke="#8a8a8a" stroke-width="0.7"/>
<line x1="272.4" y1="195.2" x2="272.4" y2="208.3" stroke="#8a8a8a" stroke-width="0.7"/>
<line x1="298.3" y1="195.2" x2="298.3" y2="208.3" stroke="#8a8a8a" stroke-width="0.7"/>
<line x1="272.4" y1="195.2" x2="286.3" y2="195.2" stroke="#8a8a8a" stroke-width="0.7"/>
<line x1="287.5" y1="195.2" x2="298.3" y2="195.2" stroke="#8a8a8a" stroke-width="0.7"/>
<line x1="286.3" y1="193.6" x2="286.3" y2="196.8" stroke="#8a8a8a" stroke-width="0.7"/>
<line x1="287.5" y1="193.6" x2="287.5" y2="196.8" stroke="#8a8a8a" stroke-width="0.7"/>
<line x1="272.4" y1="208.3" x2="274.8" y2="208.3" stroke="#8a8a8a" stroke-width="0.7"/>
<rect x="274.8" y="207" width="7.2" height="2.6" fill="#fff" stroke="#8a8a8a" stroke-width="0.7"/>
<line x1="282" y1="208.3" x2="288.3" y2="208.3" stroke="#8a8a8a" stroke-width="0.7"/>
<text x="291.3" y="210.7" font-family="'Liberation Sans',sans-serif" font-size="6.3" fill="#444" text-anchor="middle" font-weight="normal" font-style="normal">W</text>
<line x1="294.3" y1="208.3" x2="298.3" y2="208.3" stroke="#8a8a8a" stroke-width="0.7"/>
<line x1="298.3" y1="201.8" x2="301.9" y2="201.8" stroke="#8a8a8a" stroke-width="0.7"/>
<line x1="301.9" y1="195.2" x2="301.9" y2="208.3" stroke="#8a8a8a" stroke-width="0.7"/>
<line x1="314.5" y1="195.2" x2="314.5" y2="208.3" stroke="#8a8a8a" stroke-width="0.7"/>
<line x1="301.9" y1="195.2" x2="307.9" y2="195.2" stroke="#8a8a8a" stroke-width="0.7"/>
<line x1="309.1" y1="195.2" x2="314.5" y2="195.2" stroke="#8a8a8a" stroke-width="0.7"/>
<line x1="307.9" y1="193.6" x2="307.9" y2="196.8" stroke="#8a8a8a" stroke-width="0.7"/>
<line x1="309.1" y1="193.6" x2="309.1" y2="196.8" stroke="#8a8a8a" stroke-width="0.7"/>
<line x1="301.9" y1="208.3" x2="305.3" y2="208.3" stroke="#8a8a8a" stroke-width="0.7"/>
<rect x="305.3" y="207" width="6.2" height="2.6" fill="#fff" stroke="#8a8a8a" stroke-width="0.7"/>
<line x1="311.5" y1="208.3" x2="314.5" y2="208.3" stroke="#8a8a8a" stroke-width="0.7"/>
<line x1="314.5" y1="201.8" x2="318" y2="201.8" stroke="#8a8a8a" stroke-width="0.7"/>
<text x="286.8" y="191.4" font-family="'Liberation Sans',sans-serif" font-size="6.8" fill="#444" text-anchor="middle" font-weight="normal" font-style="normal" textLength="10" lengthAdjust="spacingAndGlyphs">CPE</text>
<text x="306.2" y="191" font-family="'Liberation Sans',sans-serif" font-size="7" fill="#444" text-anchor="middle" font-weight="normal" font-style="normal">C<tspan font-size="4.5" dy="1.5">dl</tspan></text>
<text x="266.4" y="198" font-family="'Liberation Sans',sans-serif" font-size="6.3" fill="#444" text-anchor="middle" font-weight="normal" font-style="normal">R<tspan font-size="4.5" dy="1.5">s</tspan></text>
<text x="279.3" y="214.6" font-family="'Liberation Sans',sans-serif" font-size="6.5" fill="#444" text-anchor="middle" font-weight="normal" font-style="normal">R<tspan font-size="4.5" dy="1.5">ct</tspan></text>
<text x="307.4" y="214.6" font-family="'Liberation Sans',sans-serif" font-size="6.5" fill="#444" text-anchor="middle" font-weight="normal" font-style="normal">R<tspan font-size="4.5" dy="1.5">f</tspan></text>
<text x="303.9" y="163.2" font-family="'Liberation Sans',sans-serif" font-size="7.2" fill="#505050" text-anchor="start" font-weight="bold" font-style="normal" textLength="52.6" lengthAdjust="spacingAndGlyphs">Glucose(mg/dL)</text>
<line x1="335.3" y1="172.8" x2="340.3" y2="172.8" stroke="#c9a02a" stroke-width="0.8"/>
<circle cx="337.8" cy="172.8" r="1.5" fill="#c9a02a" stroke="none" stroke-width="1"/>
<text x="341.4" y="175.7" font-family="'Liberation Sans',sans-serif" font-size="8" fill="#444" text-anchor="start" font-weight="bold" font-style="normal">0</text>
<line x1="335.3" y1="183.05" x2="340.3" y2="183.05" stroke="#a0a0a0" stroke-width="0.8"/>
<circle cx="337.8" cy="183.05" r="1.5" fill="#a0a0a0" stroke="none" stroke-width="1"/>
<text x="341.4" y="185.95" font-family="'Liberation Sans',sans-serif" font-size="8" fill="#444" text-anchor="start" font-weight="bold" font-style="normal">40</text>
<line x1="335.3" y1="193.3" x2="340.3" y2="193.3" stroke="#dcd820" stroke-width="0.8"/>
<circle cx="337.8" cy="193.3" r="1.5" fill="#dcd820" stroke="none" stroke-width="1"/>
<text x="341.4" y="196.2" font-family="'Liberation Sans',sans-serif" font-size="8" fill="#444" text-anchor="start" font-weight="bold" font-style="normal">100</text>
<line x1="335.3" y1="203.55" x2="340.3" y2="203.55" stroke="#3a8c2a" stroke-width="0.8"/>
<circle cx="337.8" cy="203.55" r="1.5" fill="#3a8c2a" stroke="none" stroke-width="1"/>
<text x="341.4" y="206.45" font-family="'Liberation Sans',sans-serif" font-size="8" fill="#444" text-anchor="start" font-weight="bold" font-style="normal">200</text>
<line x1="335.3" y1="213.8" x2="340.3" y2="213.8" stroke="#223c9a" stroke-width="0.8"/>
<circle cx="337.8" cy="213.8" r="1.5" fill="#223c9a" stroke="none" stroke-width="1"/>
<text x="341.4" y="216.7" font-family="'Liberation Sans',sans-serif" font-size="8" fill="#444" text-anchor="start" font-weight="bold" font-style="normal">300</text>
<line x1="335.3" y1="224.05" x2="340.3" y2="224.05" stroke="#5e5020" stroke-width="0.8"/>
<circle cx="337.8" cy="224.05" r="1.5" fill="#5e5020" stroke="none" stroke-width="1"/>
<text x="341.4" y="226.95" font-family="'Liberation Sans',sans-serif" font-size="8" fill="#444" text-anchor="start" font-weight="bold" font-style="normal">400</text>
<line x1="335.3" y1="234.3" x2="340.3" y2="234.3" stroke="#4d88dc" stroke-width="0.8"/>
<circle cx="337.8" cy="234.3" r="1.5" fill="#4d88dc" stroke="none" stroke-width="1"/>
<text x="341.4" y="237.2" font-family="'Liberation Sans',sans-serif" font-size="8" fill="#444" text-anchor="start" font-weight="bold" font-style="normal">500</text>
<rect x="425.6" y="151.3" width="112.6" height="104" fill="none" stroke="#666" stroke-width="1"/>
<line x1="425.6" y1="255.3" x2="427.4" y2="255.3" stroke="#666" stroke-width="0.7"/>
<text x="417.2" y="258.2" font-family="'Liberation Sans',sans-serif" font-size="8.2" fill="#444" text-anchor="end" font-weight="normal" font-style="normal">0</text>
<line x1="425.6" y1="229.3" x2="427.4" y2="229.3" stroke="#666" stroke-width="0.7"/>
<text x="417.2" y="232.2" font-family="'Liberation Sans',sans-serif" font-size="8.2" fill="#444" text-anchor="end" font-weight="normal" font-style="normal">2000</text>
<line x1="425.6" y1="203.3" x2="427.4" y2="203.3" stroke="#666" stroke-width="0.7"/>
<text x="417.2" y="206.2" font-family="'Liberation Sans',sans-serif" font-size="8.2" fill="#444" text-anchor="end" font-weight="normal" font-style="normal">4000</text>
<line x1="425.6" y1="177.3" x2="427.4" y2="177.3" stroke="#666" stroke-width="0.7"/>
<text x="417.2" y="180.2" font-family="'Liberation Sans',sans-serif" font-size="8.2" fill="#444" text-anchor="end" font-weight="normal" font-style="normal">6000</text>
<line x1="425.6" y1="151.3" x2="427.4" y2="151.3" stroke="#666" stroke-width="0.7"/>
<text x="417.2" y="154.2" font-family="'Liberation Sans',sans-serif" font-size="8.2" fill="#444" text-anchor="end" font-weight="normal" font-style="normal">8000</text>
<line x1="425.6" y1="255.3" x2="425.6" y2="253.5" stroke="#666" stroke-width="0.7"/>
<text x="425.6" y="270" font-family="'Liberation Sans',sans-serif" font-size="8.2" fill="#444" text-anchor="middle" font-weight="normal" font-style="normal">0</text>
<line x1="463.13" y1="255.3" x2="463.13" y2="253.5" stroke="#666" stroke-width="0.7"/>
<text x="463.13" y="270" font-family="'Liberation Sans',sans-serif" font-size="8.2" fill="#444" text-anchor="middle" font-weight="normal" font-style="normal">200</text>
<line x1="500.67" y1="255.3" x2="500.67" y2="253.5" stroke="#666" stroke-width="0.7"/>
<text x="500.67" y="270" font-family="'Liberation Sans',sans-serif" font-size="8.2" fill="#444" text-anchor="middle" font-weight="normal" font-style="normal">400</text>
<line x1="538.2" y1="255.3" x2="538.2" y2="253.5" stroke="#666" stroke-width="0.7"/>
<text x="538.2" y="270" font-family="'Liberation Sans',sans-serif" font-size="8.2" fill="#444" text-anchor="middle" font-weight="normal" font-style="normal">600</text>
<text x="487.4" y="283.1" font-family="'Liberation Sans',sans-serif" font-size="10.4" fill="#505050" text-anchor="middle" font-weight="bold" font-style="normal" textLength="79" lengthAdjust="spacingAndGlyphs">Glucose(mg/dL)</text>
<g transform="translate(391.8,212) rotate(-90)">
<text x="0" y="0" font-family="'Liberation Sans',sans-serif" font-size="8.6" fill="#333" text-anchor="start" font-weight="normal" font-style="normal">R<tspan font-size="6" dy="1.8">ct</tspan></text>
</g>
<path d="M425.5 187.7 C426 190.92 427.27 201.72 428.5 207 C429.73 212.28 430.33 216.02 432.9 219.4 C435.47 222.78 438.85 224.13 443.9 227.3 C448.95 230.47 456.87 235.12 463.2 238.4 C469.53 241.68 475.68 245.18 481.9 247 C488.12 248.82 494.28 248.75 500.5 249.3 C506.72 249.85 516.08 250.13 519.2 250.3" stroke="#3f62c0" stroke-width="0.9" fill="none"/>
<circle cx="425.5" cy="187.7" r="1.8" fill="#2a4cb0" stroke="none" stroke-width="1"/>
<circle cx="432.9" cy="219.4" r="1.8" fill="#2a4cb0" stroke="none" stroke-width="1"/>
<circle cx="443.9" cy="227.3" r="1.8" fill="#2a4cb0" stroke="none" stroke-width="1"/>
<circle cx="463.2" cy="238.4" r="1.8" fill="#2a4cb0" stroke="none" stroke-width="1"/>
<circle cx="481.9" cy="247" r="1.8" fill="#2a4cb0" stroke="none" stroke-width="1"/>
<circle cx="500.5" cy="249.3" r="1.8" fill="#2a4cb0" stroke="none" stroke-width="1"/>
<circle cx="519.2" cy="250.3" r="1.8" fill="#2a4cb0" stroke="none" stroke-width="1"/>
<line x1="443.9" y1="224.5" x2="443.9" y2="230" stroke="#3f62c0" stroke-width="0.6"/>
<rect x="458" y="161.3" width="67.3" height="51.2" fill="#fff" stroke="#666" stroke-width="0.9"/>
<line x1="458" y1="212.5" x2="459.2" y2="212.5" stroke="#666" stroke-width="0.5"/>
<text x="455.4" y="214.1" font-family="'Liberation Sans',sans-serif" font-size="4.6" fill="#555" text-anchor="end" font-weight="normal" font-style="normal">0</text>
<line x1="458" y1="199.7" x2="459.2" y2="199.7" stroke="#666" stroke-width="0.5"/>
<text x="455.4" y="201.3" font-family="'Liberation Sans',sans-serif" font-size="4.6" fill="#555" text-anchor="end" font-weight="normal" font-style="normal">5</text>
<line x1="458" y1="186.9" x2="459.2" y2="186.9" stroke="#666" stroke-width="0.5"/>
<text x="455.4" y="188.5" font-family="'Liberation Sans',sans-serif" font-size="4.6" fill="#555" text-anchor="end" font-weight="normal" font-style="normal">10</text>
<line x1="458" y1="174.1" x2="459.2" y2="174.1" stroke="#666" stroke-width="0.5"/>
<text x="455.4" y="175.7" font-family="'Liberation Sans',sans-serif" font-size="4.6" fill="#555" text-anchor="end" font-weight="normal" font-style="normal">15</text>
<line x1="458" y1="161.3" x2="459.2" y2="161.3" stroke="#666" stroke-width="0.5"/>
<text x="455.4" y="162.9" font-family="'Liberation Sans',sans-serif" font-size="4.6" fill="#555" text-anchor="end" font-weight="normal" font-style="normal">20</text>
<line x1="458" y1="212.5" x2="458" y2="211.3" stroke="#666" stroke-width="0.5"/>
<text x="458" y="220.8" font-family="'Liberation Sans',sans-serif" font-size="4.6" fill="#555" text-anchor="middle" font-weight="normal" font-style="normal">0</text>
<line x1="480.43" y1="212.5" x2="480.43" y2="211.3" stroke="#666" stroke-width="0.5"/>
<text x="480.43" y="220.8" font-family="'Liberation Sans',sans-serif" font-size="4.6" fill="#555" text-anchor="middle" font-weight="normal" font-style="normal">200</text>
<line x1="502.87" y1="212.5" x2="502.87" y2="211.3" stroke="#666" stroke-width="0.5"/>
<text x="502.87" y="220.8" font-family="'Liberation Sans',sans-serif" font-size="4.6" fill="#555" text-anchor="middle" font-weight="normal" font-style="normal">400</text>
<line x1="525.3" y1="212.5" x2="525.3" y2="211.3" stroke="#666" stroke-width="0.5"/>
<text x="525.3" y="220.8" font-family="'Liberation Sans',sans-serif" font-size="4.6" fill="#555" text-anchor="middle" font-weight="normal" font-style="normal">600</text>
<text x="492.2" y="230.8" font-family="'Liberation Sans',sans-serif" font-size="6" fill="#555" text-anchor="middle" font-weight="bold" font-style="normal" textLength="44.5" lengthAdjust="spacingAndGlyphs">Glucose(mg/dL)</text>
<g transform="translate(446.6,195.5) rotate(-90)">
<text x="0" y="0" font-family="'Liberation Sans',sans-serif" font-size="6.2" fill="#555" text-anchor="start" font-weight="normal" font-style="normal">R<tspan font-size="4" dy="1.2">ct0</tspan><tspan dy="-1.2">/R</tspan><tspan font-size="4" dy="1.2">ct</tspan></text>
</g>
<line x1="458" y1="212.22" x2="516.33" y2="175.08" stroke="#8a9ad0" stroke-width="0.6"/>
<circle cx="458" cy="209.94" r="1.7" fill="#2a4cb0" stroke="none" stroke-width="1"/>
<circle cx="462.49" cy="208.15" r="1.7" fill="#2a4cb0" stroke="none" stroke-width="1"/>
<circle cx="469.22" cy="206.61" r="1.7" fill="#2a4cb0" stroke="none" stroke-width="1"/>
<circle cx="480.43" cy="202.26" r="1.7" fill="#2a4cb0" stroke="none" stroke-width="1"/>
<circle cx="491.65" cy="192.02" r="1.7" fill="#2a4cb0" stroke="none" stroke-width="1"/>
<circle cx="502.87" cy="182.55" r="1.7" fill="#2a4cb0" stroke="none" stroke-width="1"/>
<circle cx="514.08" cy="174.87" r="1.7" fill="#2a4cb0" stroke="none" stroke-width="1"/>
<text x="465" y="169.8" font-family="'Liberation Sans',sans-serif" font-size="6.2" fill="#444" text-anchor="start" font-weight="normal" font-style="normal" textLength="59" lengthAdjust="spacingAndGlyphs">y = 0.0279x + 0.1091</text>
<text x="478.6" y="179.3" font-family="'Liberation Sans',sans-serif" font-size="6.2" fill="#444" text-anchor="start" font-weight="normal" font-style="normal" textLength="32.6" lengthAdjust="spacingAndGlyphs">R&#178; = 0.9686</text>
<rect x="9.8" y="26" width="2.1" height="70.6" fill="#50556e"/>
<rect x="184.6" y="26.2" width="2.1" height="70.4" fill="#50556e"/>
<rect x="7" y="99.1" width="180.8" height="6.2" fill="#828082"/>
<rect x="7.2" y="100.2" width="59.8" height="3.6" fill="#977f92"/>
<rect x="127.7" y="100.2" width="60.1" height="3.6" fill="#977f92"/>
<text x="97.2" y="104.6" font-family="'Liberation Sans',sans-serif" font-size="5.6" fill="#d8d8d8" text-anchor="middle" font-weight="bold" font-style="normal" textLength="13.4" lengthAdjust="spacingAndGlyphs">Glass</text>
<rect x="7.2" y="96.5" width="59.8" height="3.7" fill="#a9a22a"/>
<rect x="127.7" y="96.5" width="60.1" height="3.7" fill="#a9a22a"/>
<line x1="16.4" y1="88.2" x2="70.8" y2="88.2" stroke="#d84a5a" stroke-width="0.8"/>
<line x1="123.4" y1="88.2" x2="181" y2="88.2" stroke="#2c2c6a" stroke-width="0.8"/>
<text x="18" y="94.5" font-family="'Liberation Sans',sans-serif" font-size="5.9" fill="#e03030" text-anchor="start" font-weight="bold" font-style="italic" textLength="46" lengthAdjust="spacingAndGlyphs">High conductivity</text>
<text x="133.8" y="94.5" font-family="'Liberation Sans',sans-serif" font-size="5.9" fill="#1e2a66" text-anchor="start" font-weight="bold" font-style="italic" textLength="44.7" lengthAdjust="spacingAndGlyphs">Low conductivity</text>
<line x1="18" y1="100" x2="18" y2="109" stroke="#111" stroke-width="1"/>
<circle cx="18" cy="114.5" r="5.6" fill="#fff" stroke="#111" stroke-width="1.1"/>
<path d="M15.6 114.8 C16.4 113.2 17.4 113.4 18 114.3 C18.6 115.2 19.6 115.4 20.4 113.8" stroke="#111" stroke-width="0.9" fill="none"/>
<line x1="18" y1="120.1" x2="18" y2="122.2" stroke="#111" stroke-width="1"/>
<line x1="18" y1="122.2" x2="177.8" y2="122.2" stroke="#111" stroke-width="1"/>
<line x1="177.8" y1="122.2" x2="177.8" y2="120.6" stroke="#111" stroke-width="1"/>
<circle cx="177.8" cy="114.6" r="6" fill="#fff" stroke="#111" stroke-width="1.1"/>
<text x="177.9" y="117.6" font-family="'Liberation Sans',sans-serif" font-size="8" fill="#111" text-anchor="middle" font-weight="normal" font-style="normal">A</text>
<line x1="177.6" y1="100" x2="177.6" y2="108.6" stroke="#111" stroke-width="1"/>
<text x="26.9" y="116.5" font-family="'Liberation Sans',sans-serif" font-size="6.2" fill="#111" text-anchor="start" font-weight="bold" font-style="normal" textLength="16.2" lengthAdjust="spacingAndGlyphs">20 mV</text>
<text x="123.8" y="117.8" font-family="'Liberation Sans',sans-serif" font-size="6.1" fill="#a09a38" text-anchor="start" font-weight="bold" font-style="normal" textLength="24.1" lengthAdjust="spacingAndGlyphs">Electrode</text>
<path d="M136.2 111.7 Q141.6 108 142.3 102" stroke="#707070" stroke-width="0.6" fill="none"/>
<circle cx="142.3" cy="101.8" r="0.8" fill="#7a2030" stroke="none" stroke-width="1"/>
<text x="43.8" y="28.6" font-family="'Liberation Sans',sans-serif" font-size="3.9" fill="#c89040" text-anchor="middle" font-weight="bold" font-style="normal">DBA2+</text>
<path d="M18.6 40.5 L14.01 43.15 L14.01 48.45 L18.6 51.1 L23.19 48.45 L23.19 43.15Z" stroke="#d4805c" stroke-width="0.8" fill="none"/>
<line x1="18.6" y1="41.98" x2="15.3" y2="43.89" stroke="#d4805c" stroke-width="0.8"/>
<line x1="15.3" y1="47.71" x2="18.6" y2="49.62" stroke="#d4805c" stroke-width="0.8"/>
<line x1="21.9" y1="47.71" x2="21.9" y2="43.89" stroke="#d4805c" stroke-width="0.8"/>
<path d="M23.2 43.15 L28.5 41.3" stroke="#d4805c" stroke-width="0.8" fill="none"/>
<path d="M28.5 41.3 L29 38.2" stroke="#d4805c" stroke-width="0.8" fill="none"/>
<path d="M28.5 41.3 L32.6 44.2" stroke="#d4805c" stroke-width="0.8" fill="none"/>
<path d="M23.2 48.45 L26.5 52.9 L29.5 56.2" stroke="#d4805c" stroke-width="0.8" fill="none"/>
<path d="M29.5 56.2 L24.9 58.7" stroke="#d4805c" stroke-width="0.8" fill="none"/>
<path d="M29.5 56.2 L33.9 57.2" stroke="#d4805c" stroke-width="0.8" fill="none"/>
<path d="M29.5 56.2 L31.8 61.6 L38.3 60" stroke="#d4805c" stroke-width="0.8" fill="none"/>
<circle cx="29.2" cy="53.6" r="1.25" fill="none" stroke="#d4805c" stroke-width="0.5"/>
<text x="29.7" y="37.8" font-family="'Liberation Sans',sans-serif" font-size="2.9" fill="#d4805c" text-anchor="middle" font-weight="normal" font-style="normal">OH</text>
<text x="35.2" y="46.2" font-family="'Liberation Sans',sans-serif" font-size="2.9" fill="#d4805c" text-anchor="middle" font-weight="normal" font-style="normal">OH</text>
<path d="M68.2 40.5 L63.61 43.15 L63.61 48.45 L68.2 51.1 L72.79 48.45 L72.79 43.15Z" stroke="#d4805c" stroke-width="0.8" fill="none"/>
<line x1="68.2" y1="41.98" x2="64.9" y2="43.89" stroke="#d4805c" stroke-width="0.8"/>
<line x1="64.9" y1="47.71" x2="68.2" y2="49.62" stroke="#d4805c" stroke-width="0.8"/>
<line x1="71.5" y1="47.71" x2="71.5" y2="43.89" stroke="#d4805c" stroke-width="0.8"/>
<path d="M63.6 43.15 L58.3 41.3" stroke="#d4805c" stroke-width="0.8" fill="none"/>
<path d="M58.3 41.3 L57.8 38.2" stroke="#d4805c" stroke-width="0.8" fill="none"/>
<path d="M58.3 41.3 L54.2 44.2" stroke="#d4805c" stroke-width="0.8" fill="none"/>
<path d="M63.6 48.45 L60.3 52.9 L57.3 56.2" stroke="#d4805c" stroke-width="0.8" fill="none"/>
<path d="M57.3 56.2 L61.9 58.7" stroke="#d4805c" stroke-width="0.8" fill="none"/>
<path d="M57.3 56.2 L52.9 57.2" stroke="#d4805c" stroke-width="0.8" fill="none"/>
<path d="M57.3 56.2 L55 61.6 L48.5 60" stroke="#d4805c" stroke-width="0.8" fill="none"/>
<circle cx="57.6" cy="53.6" r="1.25" fill="none" stroke="#d4805c" stroke-width="0.5"/>
<text x="57.1" y="37.8" font-family="'Liberation Sans',sans-serif" font-size="2.9" fill="#d4805c" text-anchor="middle" font-weight="normal" font-style="normal">OH</text>
<text x="51.6" y="46.2" font-family="'Liberation Sans',sans-serif" font-size="2.9" fill="#d4805c" text-anchor="middle" font-weight="normal" font-style="normal">OH</text>
<path d="M43.4 57 L38.81 59.65 L38.81 64.95 L43.4 67.6 L47.99 64.95 L47.99 59.65Z" stroke="#d4805c" stroke-width="0.8" fill="none"/>
<line x1="43.4" y1="58.48" x2="40.1" y2="60.39" stroke="#d4805c" stroke-width="0.8"/>
<line x1="40.1" y1="64.21" x2="43.4" y2="66.12" stroke="#d4805c" stroke-width="0.8"/>
<line x1="46.7" y1="64.21" x2="46.7" y2="60.39" stroke="#d4805c" stroke-width="0.8"/>
<text x="43.5" y="75.6" font-family="'Liberation Sans',sans-serif" font-size="7" fill="#222" text-anchor="middle" font-weight="bold" font-style="normal">+</text>
<text x="22" y="82.8" font-family="'Liberation Serif',serif" font-size="3.8" fill="#b03030" text-anchor="start" font-weight="normal" font-style="normal">3 HPO<tspan font-size="2.2" dy="0.8">4</tspan><tspan font-size="2.2" dy="-2">2-</tspan></text>
<text x="53" y="82.8" font-family="'Liberation Serif',serif" font-size="3.8" fill="#333" text-anchor="start" font-weight="normal" font-style="normal">3 Na<tspan font-size="2.2" dy="-1.2">+</tspan></text>
<text x="100.5" y="34" font-family="'Liberation Sans',sans-serif" font-size="4.2" fill="#cfae3a" text-anchor="middle" font-weight="bold" font-style="normal">Glucose</text>
<text x="82.8" y="43.4" font-family="'Liberation Sans',sans-serif" font-size="6" fill="#222" text-anchor="middle" font-weight="bold" font-style="normal">+</text>
<text x="83.5" y="62.3" font-family="'Liberation Sans',sans-serif" font-size="7" fill="#222" text-anchor="middle" font-weight="bold" font-style="normal">-</text>
<path d="M90.6 42.9 L95.4 37.4 L100.2 39 L104.7 37.2 L108.7 40.4 L103.7 43.6 L98.7 42 L95.4 37.4" stroke="#2a2a2a" stroke-width="0.6" fill="none"/>
<path d="M104.7 37.2 L108.7 37.2" stroke="#2a2a2a" stroke-width="0.6" fill="none"/>
<path d="M108.7 40.4 L111.2 41.6" stroke="#2a2a2a" stroke-width="0.6" fill="none"/>
<path d="M103.7 43.6 L105.2 45.2" stroke="#2a2a2a" stroke-width="0.6" fill="none"/>
<path d="M98.7 42 L96.7 43.8" stroke="#2a2a2a" stroke-width="0.6" fill="none"/>
<text x="89.4" y="44.8" font-family="'Liberation Sans',sans-serif" font-size="2.2" fill="#2a2a2a" text-anchor="start" font-weight="normal" font-style="normal">HO</text>
<text x="94.6" y="45.2" font-family="'Liberation Sans',sans-serif" font-size="2.2" fill="#2a2a2a" text-anchor="start" font-weight="normal" font-style="normal">HO</text>
<text x="105.2" y="46.6" font-family="'Liberation Sans',sans-serif" font-size="2.2" fill="#2a2a2a" text-anchor="start" font-weight="normal" font-style="normal">OH</text>
<text x="109" y="37.6" font-family="'Liberation Sans',sans-serif" font-size="2.2" fill="#2a2a2a" text-anchor="start" font-weight="normal" font-style="normal">OH</text>
<path d="M90.6 61.5 L95.4 56 L100.2 57.6 L104.7 55.8 L108.7 59 L103.7 62.2 L98.7 60.6 L95.4 56" stroke="#2a2a2a" stroke-width="0.6" fill="none"/>
<path d="M104.7 55.8 L108.7 55.8" stroke="#2a2a2a" stroke-width="0.6" fill="none"/>
<path d="M108.7 59 L111.2 60.2" stroke="#2a2a2a" stroke-width="0.6" fill="none"/>
<path d="M103.7 62.2 L105.2 63.8" stroke="#2a2a2a" stroke-width="0.6" fill="none"/>
<path d="M98.7 60.6 L96.7 62.4" stroke="#2a2a2a" stroke-width="0.6" fill="none"/>
<text x="89.4" y="63.4" font-family="'Liberation Sans',sans-serif" font-size="2.2" fill="#2a2a2a" text-anchor="start" font-weight="normal" font-style="normal">HO</text>
<text x="94.6" y="63.8" font-family="'Liberation Sans',sans-serif" font-size="2.2" fill="#2a2a2a" text-anchor="start" font-weight="normal" font-style="normal">HO</text>
<text x="105.2" y="65.2" font-family="'Liberation Sans',sans-serif" font-size="2.2" fill="#2a2a2a" text-anchor="start" font-weight="normal" font-style="normal">OH</text>
<text x="109" y="56.2" font-family="'Liberation Sans',sans-serif" font-size="2.2" fill="#2a2a2a" text-anchor="start" font-weight="normal" font-style="normal">OH</text>
<line x1="78" y1="49.6" x2="115" y2="49.6" stroke="#111" stroke-width="1.3"/>
<path d="M116.5 49.6 L110.5 47.6 L111 49.6 Z" stroke="#111" stroke-width="0.5" fill="#111"/>
<line x1="79.5" y1="52.4" x2="117" y2="52.4" stroke="#111" stroke-width="1.3"/>
<path d="M78 52.4 L84 54.4 L83.5 52.4 Z" stroke="#111" stroke-width="0.5" fill="#111"/>
<text x="152.5" y="28.6" font-family="'Liberation Sans',sans-serif" font-size="3.9" fill="#c89040" text-anchor="middle" font-weight="bold" font-style="normal">DBA-G</text>
<path d="M132 48.8 L129.35 44.21 L124.05 44.21 L121.4 48.8 L124.05 53.39 L129.35 53.39Z" stroke="#4a4ab8" stroke-width="0.8" fill="none"/>
<line x1="130.52" y1="48.8" x2="128.61" y2="45.5" stroke="#4a4ab8" stroke-width="0.8"/>
<line x1="124.79" y1="45.5" x2="122.88" y2="48.8" stroke="#4a4ab8" stroke-width="0.8"/>
<line x1="124.79" y1="52.1" x2="128.61" y2="52.1" stroke="#4a4ab8" stroke-width="0.8"/>
<path d="M182.5 48.8 L179.85 44.21 L174.55 44.21 L171.9 48.8 L174.55 53.39 L179.85 53.39Z" stroke="#4a4ab8" stroke-width="0.8" fill="none"/>
<line x1="181.02" y1="48.8" x2="179.11" y2="45.5" stroke="#4a4ab8" stroke-width="0.8"/>
<line x1="175.29" y1="45.5" x2="173.38" y2="48.8" stroke="#4a4ab8" stroke-width="0.8"/>
<line x1="175.29" y1="52.1" x2="179.11" y2="52.1" stroke="#4a4ab8" stroke-width="0.8"/>
<path d="M157.2 65.3 L154.7 60.97 L149.7 60.97 L147.2 65.3 L149.7 69.63 L154.7 69.63Z" stroke="#4a4ab8" stroke-width="0.8" fill="none"/>
<line x1="155.8" y1="65.3" x2="154" y2="62.18" stroke="#4a4ab8" stroke-width="0.8"/>
<line x1="150.4" y1="62.18" x2="148.6" y2="65.3" stroke="#4a4ab8" stroke-width="0.8"/>
<line x1="150.4" y1="68.42" x2="154" y2="68.42" stroke="#4a4ab8" stroke-width="0.8"/>
<path d="M122.3 52.2 L124.6 54.2" stroke="#e070c0" stroke-width="1" fill="none"/>
<path d="M129.35 53.4 L134.2 56.2 L138.6 58.6" stroke="#4a4ab8" stroke-width="0.8" fill="none"/>
<path d="M138.6 58.6 L133.7 61.6" stroke="#4a4ab8" stroke-width="0.8" fill="none"/>
<path d="M138.6 58.6 L143.6 61" stroke="#4a4ab8" stroke-width="0.8" fill="none"/>
<path d="M138.6 58.6 L141.1 64.1 L147.2 65.3" stroke="#4a4ab8" stroke-width="0.8" fill="none"/>
<path d="M132 48.8 L135.8 47.6 L139.5 47.1" stroke="#4a4ab8" stroke-width="0.8" fill="none"/>
<circle cx="139.6" cy="55.6" r="1.25" fill="none" stroke="#4a4ab8" stroke-width="0.5"/>
<path d="M174.55 53.4 L169.7 56.2 L165.3 58.6" stroke="#4a4ab8" stroke-width="0.8" fill="none"/>
<path d="M165.3 58.6 L170.2 61.6" stroke="#4a4ab8" stroke-width="0.8" fill="none"/>
<path d="M165.3 58.6 L160.3 61" stroke="#4a4ab8" stroke-width="0.8" fill="none"/>
<path d="M165.3 58.6 L162.8 64.1 L156.7 65.3" stroke="#4a4ab8" stroke-width="0.8" fill="none"/>
<path d="M171.9 48.8 L168.1 47.6 L164.4 47.1" stroke="#4a4ab8" stroke-width="0.8" fill="none"/>
<circle cx="164.3" cy="55.6" r="1.25" fill="none" stroke="#4a4ab8" stroke-width="0.5"/>
<path d="M139.5 47.1 L139.5 42.2 L134.5 38.9 L137 34.7 L141.1 33.9 L142.8 38 L139.5 42.2" stroke="#4a4ab8" stroke-width="0.8" fill="none"/>
<path d="M142.8 38 L144.7 31" stroke="#4a4ab8" stroke-width="0.8" fill="none"/>
<path d="M142.8 38 L146 39.7 L150.2 36.4 L155.1 35.6 L158.4 38.9 L154.3 43 L149.4 43 L146 39.7" stroke="#4a4ab8" stroke-width="0.8" fill="none"/>
<path d="M158.4 38.9 L161.7 38 L165 40.5 L162.6 44.6 L158.4 43.8 L154.3 43" stroke="#4a4ab8" stroke-width="0.8" fill="none"/>
<path d="M165 40.5 L166.7 47.1" stroke="#4a4ab8" stroke-width="0.8" fill="none"/>
<path d="M162.6 44.6 L164.5 47.5" stroke="#4a4ab8" stroke-width="0.8" fill="none"/>
<path d="M165 40.5 L167.5 38.3" stroke="#4a4ab8" stroke-width="0.8" fill="none"/>
<path d="M155.1 35.6 L157 32.5" stroke="#4a4ab8" stroke-width="0.8" fill="none"/>
<path d="M150.2 36.4 L148 33" stroke="#4a4ab8" stroke-width="0.8" fill="none"/>
<path d="M148.2 42.6 L149.6 48.4" stroke="#4a4ab8" stroke-width="1.3" fill="none"/>
<path d="M155 42.8 L156.5 46.8" stroke="#4a4ab8" stroke-width="1.1" fill="none"/>
<circle cx="144.7" cy="31" r="0.9" fill="#a040c0" stroke="none" stroke-width="1"/>
<text x="139.6" y="50.6" font-family="'Liberation Sans',sans-serif" font-size="2.8" fill="#4a4ab8" text-anchor="middle" font-weight="normal" font-style="normal">O</text>
<text x="166.6" y="50.6" font-family="'Liberation Sans',sans-serif" font-size="2.8" fill="#4a4ab8" text-anchor="middle" font-weight="normal" font-style="normal">O</text>
<text x="149.6" y="51.2" font-family="'Liberation Sans',sans-serif" font-size="2.6" fill="#4a4ab8" text-anchor="middle" font-weight="normal" font-style="normal">O</text>
<text x="169.8" y="38.4" font-family="'Liberation Sans',sans-serif" font-size="2.6" fill="#4a4ab8" text-anchor="middle" font-weight="normal" font-style="normal">OH</text>
<text x="128.2" y="81" font-family="'Liberation Serif',serif" font-size="3.8" fill="#3040a0" text-anchor="start" font-weight="normal" font-style="normal">1 H<tspan font-size="2.2" dy="0.8">2</tspan><tspan dy="-0.8">PO</tspan><tspan font-size="2.2" dy="0.8">4</tspan><tspan font-size="2.2" dy="-2">-</tspan></text>
<text x="170" y="81" font-family="'Liberation Serif',serif" font-size="3.8" fill="#b03030" text-anchor="start" font-weight="normal" font-style="normal">2 Na<tspan font-size="2.2" dy="-1.2">+</tspan></text>
<text x="152.7" y="75.6" font-family="'Liberation Sans',sans-serif" font-size="7" fill="#222" text-anchor="middle" font-weight="bold" font-style="normal">+</text>
<text x="148.6" y="85" font-family="'Liberation Serif',serif" font-size="4.8" fill="#222" text-anchor="start" font-weight="bold" font-style="normal">2 H<tspan font-size="2.8" dy="0.8">2</tspan><tspan dy="-0.8">O</tspan></text>
<path d="M68 157.8 L65 152.6 L59 152.6 L56 157.8 L59 163 L65 163Z" stroke="#484848" stroke-width="0.7" fill="none"/>
<line x1="66.32" y1="157.8" x2="64.16" y2="154.06" stroke="#484848" stroke-width="0.7"/>
<line x1="59.84" y1="154.06" x2="57.68" y2="157.8" stroke="#484848" stroke-width="0.7"/>
<line x1="59.84" y1="161.54" x2="64.16" y2="161.54" stroke="#484848" stroke-width="0.7"/>
<line x1="56" y1="157.8" x2="50.6" y2="158.4" stroke="#484848" stroke-width="0.7"/>
<text x="40.3" y="160.5" font-family="'Liberation Sans',sans-serif" font-size="4.6" fill="#2a2a2a" text-anchor="start" font-weight="normal" font-style="normal">F<tspan font-size="2.8" dy="1">3</tspan><tspan dy="-1">C</tspan></text>
<line x1="68" y1="157.8" x2="76" y2="158.6" stroke="#484848" stroke-width="0.7"/>
<text x="76" y="160.5" font-family="'Liberation Sans',sans-serif" font-size="4.6" fill="#2a2a2a" text-anchor="start" font-weight="normal" font-style="normal">B</text>
<line x1="79.4" y1="156.8" x2="82.4" y2="153.6" stroke="#484848" stroke-width="0.7"/>
<line x1="79.4" y1="160" x2="82.4" y2="163.4" stroke="#484848" stroke-width="0.7"/>
<text x="82.4" y="154.2" font-family="'Liberation Sans',sans-serif" font-size="4.6" fill="#2a2a2a" text-anchor="start" font-weight="normal" font-style="normal">OH</text>
<text x="82.4" y="167" font-family="'Liberation Sans',sans-serif" font-size="4.6" fill="#2a2a2a" text-anchor="start" font-weight="normal" font-style="normal">OH</text>
<path d="M65 163 L68 169 L73.4 170.6" stroke="#484848" stroke-width="0.7" fill="none"/>
<text x="73.7" y="173" font-family="'Liberation Sans',sans-serif" font-size="4.6" fill="#2a2a2a" text-anchor="start" font-weight="normal" font-style="normal">N</text>
<path d="M106.1 164.6 L102.35 158.1 L94.85 158.1 L91.1 164.6 L94.85 171.1 L102.35 171.1Z" stroke="#484848" stroke-width="0.7" fill="none"/>
<path d="M106.1 177.6 L102.35 171.1 L94.85 171.1 L91.1 177.6 L94.85 184.1 L102.35 184.1Z" stroke="#484848" stroke-width="0.7" fill="none"/>
<path d="M106.1 190.6 L102.35 184.1 L94.85 184.1 L91.1 190.6 L94.85 197.1 L102.35 197.1Z" stroke="#484848" stroke-width="0.7" fill="none"/>
<line x1="94.1" y1="158.5" x2="100.6" y2="158.5" stroke="#484848" stroke-width="0.7"/>
<line x1="93.6" y1="166" x2="96.6" y2="170.5" stroke="#484848" stroke-width="0.7"/>
<line x1="103.6" y1="183" x2="100.6" y2="187.5" stroke="#484848" stroke-width="0.7"/>
<line x1="94.1" y1="196.5" x2="99.6" y2="196.5" stroke="#484848" stroke-width="0.7"/>
<path d="M77.3 173 L81.5 177.7 L91.1 177.6" stroke="#484848" stroke-width="0.7" fill="none"/>
<path d="M106.1 177.6 L112.5 177.7 L116.3 173.2" stroke="#484848" stroke-width="0.7" fill="none"/>
<text x="115.4" y="173" font-family="'Liberation Sans',sans-serif" font-size="4.6" fill="#2a2a2a" text-anchor="start" font-weight="normal" font-style="normal">N</text>
<path d="M139.6 157.8 L136.6 152.6 L130.6 152.6 L127.6 157.8 L130.6 163 L136.6 163Z" stroke="#484848" stroke-width="0.7" fill="none"/>
<line x1="137.92" y1="157.8" x2="135.76" y2="154.06" stroke="#484848" stroke-width="0.7"/>
<line x1="131.44" y1="154.06" x2="129.28" y2="157.8" stroke="#484848" stroke-width="0.7"/>
<line x1="131.44" y1="161.54" x2="135.76" y2="161.54" stroke="#484848" stroke-width="0.7"/>
<path d="M119.3 170.6 L126 169 L130.6 163" stroke="#484848" stroke-width="0.7" fill="none"/>
<line x1="127.6" y1="157.8" x2="121" y2="158.6" stroke="#484848" stroke-width="0.7"/>
<text x="117.2" y="160.5" font-family="'Liberation Sans',sans-serif" font-size="4.6" fill="#2a2a2a" text-anchor="start" font-weight="normal" font-style="normal">B</text>
<line x1="117.5" y1="156.8" x2="114.2" y2="153.6" stroke="#484848" stroke-width="0.7"/>
<line x1="117.5" y1="160" x2="114.2" y2="163.4" stroke="#484848" stroke-width="0.7"/>
<text x="114.2" y="154.2" font-family="'Liberation Sans',sans-serif" font-size="4.6" fill="#2a2a2a" text-anchor="end" font-weight="normal" font-style="normal">HO</text>
<text x="114.2" y="167" font-family="'Liberation Sans',sans-serif" font-size="4.6" fill="#2a2a2a" text-anchor="end" font-weight="normal" font-style="normal">HO</text>
<line x1="139.6" y1="157.8" x2="145.4" y2="158.4" stroke="#484848" stroke-width="0.7"/>
<text x="145.6" y="160.5" font-family="'Liberation Sans',sans-serif" font-size="4.6" fill="#2a2a2a" text-anchor="start" font-weight="normal" font-style="normal">CF<tspan font-size="2.8" dy="1">3</tspan></text>
<path d="M102.35 197.1 L104.3 204 L112.6 204.8" stroke="#484848" stroke-width="0.7" fill="none"/>
<line x1="104.3" y1="204" x2="102" y2="208.6" stroke="#484848" stroke-width="0.7"/>
<line x1="103.2" y1="203.6" x2="100.9" y2="208.2" stroke="#484848" stroke-width="0.7"/>
<text x="101" y="212.2" font-family="'Liberation Sans',sans-serif" font-size="4.4" fill="#2a2a2a" text-anchor="middle" font-weight="normal" font-style="normal">O</text>
<path d="M75.4 174.5 L73.2 180 L77.6 185.5 L73.2 191 L77.6 196.5 L73.2 202 L77.6 207.5 L73.2 213 L77.6 218.5" stroke="#484848" stroke-width="0.7" fill="none"/>
<path d="M117.3 174.5 L119.6 180 L123.8 185.5 L119.6 191 L123.8 196.5 L119.6 202 L123.8 207.5 L119.6 213 L123.8 218.5" stroke="#484848" stroke-width="0.7" fill="none"/>
<text x="72" y="224" font-family="'Liberation Sans',sans-serif" font-size="4.7" fill="#2a2a2a" text-anchor="middle" font-weight="normal" font-style="normal">HN</text>
<text x="121.6" y="224" font-family="'Liberation Sans',sans-serif" font-size="4.7" fill="#2a2a2a" text-anchor="middle" font-weight="normal" font-style="normal">HN</text>
<text x="31" y="197.6" font-family="'Liberation Sans',sans-serif" font-size="7.3" fill="#2a2a2a" text-anchor="start" font-weight="normal" font-style="normal">Fe(CN)<tspan font-size="4.6" dy="1.6">6</tspan><tspan font-size="4.8" dy="-4.6">3-/4-</tspan></text>
<path d="M45.8 232.7 L39.3 236.45 L39.3 243.95 L45.8 247.7 L52.3 243.95 L52.3 236.45Z" stroke="#484848" stroke-width="0.7" fill="none"/>
<line x1="45.8" y1="234.8" x2="41.12" y2="237.5" stroke="#484848" stroke-width="0.7"/>
<line x1="41.12" y1="242.9" x2="45.8" y2="245.6" stroke="#484848" stroke-width="0.7"/>
<line x1="50.48" y1="242.9" x2="50.48" y2="237.5" stroke="#484848" stroke-width="0.7"/>
<line x1="52.29" y1="236.45" x2="56" y2="229.6" stroke="#484848" stroke-width="0.7"/>
<line x1="56" y1="229.6" x2="61.8" y2="230" stroke="#484848" stroke-width="0.7"/>
<line x1="56.2" y1="230.6" x2="61.8" y2="230.9" stroke="#484848" stroke-width="0.7"/>
<text x="64.2" y="231.6" font-family="'Liberation Sans',sans-serif" font-size="4.8" fill="#2a2a2a" text-anchor="middle" font-weight="normal" font-style="normal">O</text>
<line x1="56" y1="229.6" x2="53" y2="225.6" stroke="#484848" stroke-width="0.7"/>
<text x="49.6" y="225.4" font-family="'Liberation Sans',sans-serif" font-size="4.7" fill="#2a2a2a" text-anchor="middle" font-weight="normal" font-style="normal">HO</text>
<line x1="45.8" y1="247.7" x2="45.8" y2="253.6" stroke="#484848" stroke-width="0.7"/>
<text x="45.8" y="257.6" font-family="'Liberation Sans',sans-serif" font-size="4.4" fill="#a070a0" text-anchor="middle" font-weight="normal" font-style="normal">S</text>
<line x1="45.8" y1="258.4" x2="45.8" y2="262" stroke="#484848" stroke-width="0.7"/>
<path d="M67.4 232.7 L60.9 236.45 L60.9 243.95 L67.4 247.7 L73.9 243.95 L73.9 236.45Z" stroke="#484848" stroke-width="0.7" fill="none"/>
<line x1="67.4" y1="234.8" x2="62.72" y2="237.5" stroke="#484848" stroke-width="0.7"/>
<line x1="62.72" y1="242.9" x2="67.4" y2="245.6" stroke="#484848" stroke-width="0.7"/>
<line x1="72.08" y1="242.9" x2="72.08" y2="237.5" stroke="#484848" stroke-width="0.7"/>
<line x1="73.9" y1="236.45" x2="77.6" y2="229.6" stroke="#484848" stroke-width="0.7"/>
<line x1="77.6" y1="229.6" x2="83.4" y2="230" stroke="#484848" stroke-width="0.7"/>
<line x1="77.8" y1="230.6" x2="83.4" y2="230.9" stroke="#484848" stroke-width="0.7"/>
<text x="85.8" y="231.6" font-family="'Liberation Sans',sans-serif" font-size="4.8" fill="#2a2a2a" text-anchor="middle" font-weight="normal" font-style="normal">O</text>
<line x1="77.6" y1="229.6" x2="74.6" y2="225.6" stroke="#484848" stroke-width="0.7"/>
<line x1="67.4" y1="247.7" x2="67.4" y2="253.6" stroke="#484848" stroke-width="0.7"/>
<text x="67.4" y="257.6" font-family="'Liberation Sans',sans-serif" font-size="4.4" fill="#a070a0" text-anchor="middle" font-weight="normal" font-style="normal">S</text>
<line x1="67.4" y1="258.4" x2="67.4" y2="262" stroke="#484848" stroke-width="0.7"/>
<path d="M92 232.7 L85.5 236.45 L85.5 243.95 L92 247.7 L98.5 243.95 L98.5 236.45Z" stroke="#484848" stroke-width="0.7" fill="none"/>
<line x1="92" y1="234.8" x2="87.32" y2="237.5" stroke="#484848" stroke-width="0.7"/>
<line x1="87.32" y1="242.9" x2="92" y2="245.6" stroke="#484848" stroke-width="0.7"/>
<line x1="96.68" y1="242.9" x2="96.68" y2="237.5" stroke="#484848" stroke-width="0.7"/>
<line x1="98.5" y1="236.45" x2="102.2" y2="229.6" stroke="#484848" stroke-width="0.7"/>
<line x1="102.2" y1="229.6" x2="108" y2="230" stroke="#484848" stroke-width="0.7"/>
<line x1="102.4" y1="230.6" x2="108" y2="230.9" stroke="#484848" stroke-width="0.7"/>
<text x="110.4" y="231.6" font-family="'Liberation Sans',sans-serif" font-size="4.8" fill="#2a2a2a" text-anchor="middle" font-weight="normal" font-style="normal">O</text>
<line x1="102.2" y1="229.6" x2="99.2" y2="225.6" stroke="#484848" stroke-width="0.7"/>
<text x="95.8" y="225.4" font-family="'Liberation Sans',sans-serif" font-size="4.7" fill="#2a2a2a" text-anchor="middle" font-weight="normal" font-style="normal">HO</text>
<line x1="92" y1="247.7" x2="92" y2="253.6" stroke="#484848" stroke-width="0.7"/>
<text x="92" y="257.6" font-family="'Liberation Sans',sans-serif" font-size="4.4" fill="#a070a0" text-anchor="middle" font-weight="normal" font-style="normal">S</text>
<line x1="92" y1="258.4" x2="92" y2="262" stroke="#484848" stroke-width="0.7"/>
<path d="M116.2 232.7 L109.7 236.45 L109.7 243.95 L116.2 247.7 L122.7 243.95 L122.7 236.45Z" stroke="#484848" stroke-width="0.7" fill="none"/>
<line x1="116.2" y1="234.8" x2="111.52" y2="237.5" stroke="#484848" stroke-width="0.7"/>
<line x1="111.52" y1="242.9" x2="116.2" y2="245.6" stroke="#484848" stroke-width="0.7"/>
<line x1="120.88" y1="242.9" x2="120.88" y2="237.5" stroke="#484848" stroke-width="0.7"/>
<line x1="122.7" y1="236.45" x2="126.4" y2="229.6" stroke="#484848" stroke-width="0.7"/>
<line x1="126.4" y1="229.6" x2="132.2" y2="230" stroke="#484848" stroke-width="0.7"/>
<line x1="126.6" y1="230.6" x2="132.2" y2="230.9" stroke="#484848" stroke-width="0.7"/>
<text x="134.6" y="231.6" font-family="'Liberation Sans',sans-serif" font-size="4.8" fill="#2a2a2a" text-anchor="middle" font-weight="normal" font-style="normal">O</text>
<line x1="126.4" y1="229.6" x2="123.4" y2="225.6" stroke="#484848" stroke-width="0.7"/>
<line x1="116.2" y1="247.7" x2="116.2" y2="253.6" stroke="#484848" stroke-width="0.7"/>
<text x="116.2" y="257.6" font-family="'Liberation Sans',sans-serif" font-size="4.4" fill="#a070a0" text-anchor="middle" font-weight="normal" font-style="normal">S</text>
<line x1="116.2" y1="258.4" x2="116.2" y2="262" stroke="#484848" stroke-width="0.7"/>
<path d="M142.4 232.7 L135.9 236.45 L135.9 243.95 L142.4 247.7 L148.9 243.95 L148.9 236.45Z" stroke="#484848" stroke-width="0.7" fill="none"/>
<line x1="142.4" y1="234.8" x2="137.72" y2="237.5" stroke="#484848" stroke-width="0.7"/>
<line x1="137.72" y1="242.9" x2="142.4" y2="245.6" stroke="#484848" stroke-width="0.7"/>
<line x1="147.08" y1="242.9" x2="147.08" y2="237.5" stroke="#484848" stroke-width="0.7"/>
<line x1="148.9" y1="236.45" x2="152.6" y2="229.6" stroke="#484848" stroke-width="0.7"/>
<line x1="152.6" y1="229.6" x2="158.4" y2="230" stroke="#484848" stroke-width="0.7"/>
<line x1="152.8" y1="230.6" x2="158.4" y2="230.9" stroke="#484848" stroke-width="0.7"/>
<text x="160.8" y="231.6" font-family="'Liberation Sans',sans-serif" font-size="4.8" fill="#2a2a2a" text-anchor="middle" font-weight="normal" font-style="normal">O</text>
<line x1="152.6" y1="229.6" x2="149.6" y2="225.6" stroke="#484848" stroke-width="0.7"/>
<text x="146.2" y="225.4" font-family="'Liberation Sans',sans-serif" font-size="4.7" fill="#2a2a2a" text-anchor="middle" font-weight="normal" font-style="normal">HO</text>
<line x1="142.4" y1="247.7" x2="142.4" y2="253.6" stroke="#484848" stroke-width="0.7"/>
<text x="142.4" y="257.6" font-family="'Liberation Sans',sans-serif" font-size="4.4" fill="#a070a0" text-anchor="middle" font-weight="normal" font-style="normal">S</text>
<line x1="142.4" y1="258.4" x2="142.4" y2="262" stroke="#484848" stroke-width="0.7"/>
<rect x="37.7" y="262.1" width="118.7" height="9.5" fill="#f5c428"/>
<text x="97.5" y="269.9" font-family="'Liberation Serif',serif" font-size="7.8" fill="#000" text-anchor="middle" font-weight="bold" font-style="normal" textLength="41" lengthAdjust="spacingAndGlyphs">Au electrode</text></svg>
</body></html>
